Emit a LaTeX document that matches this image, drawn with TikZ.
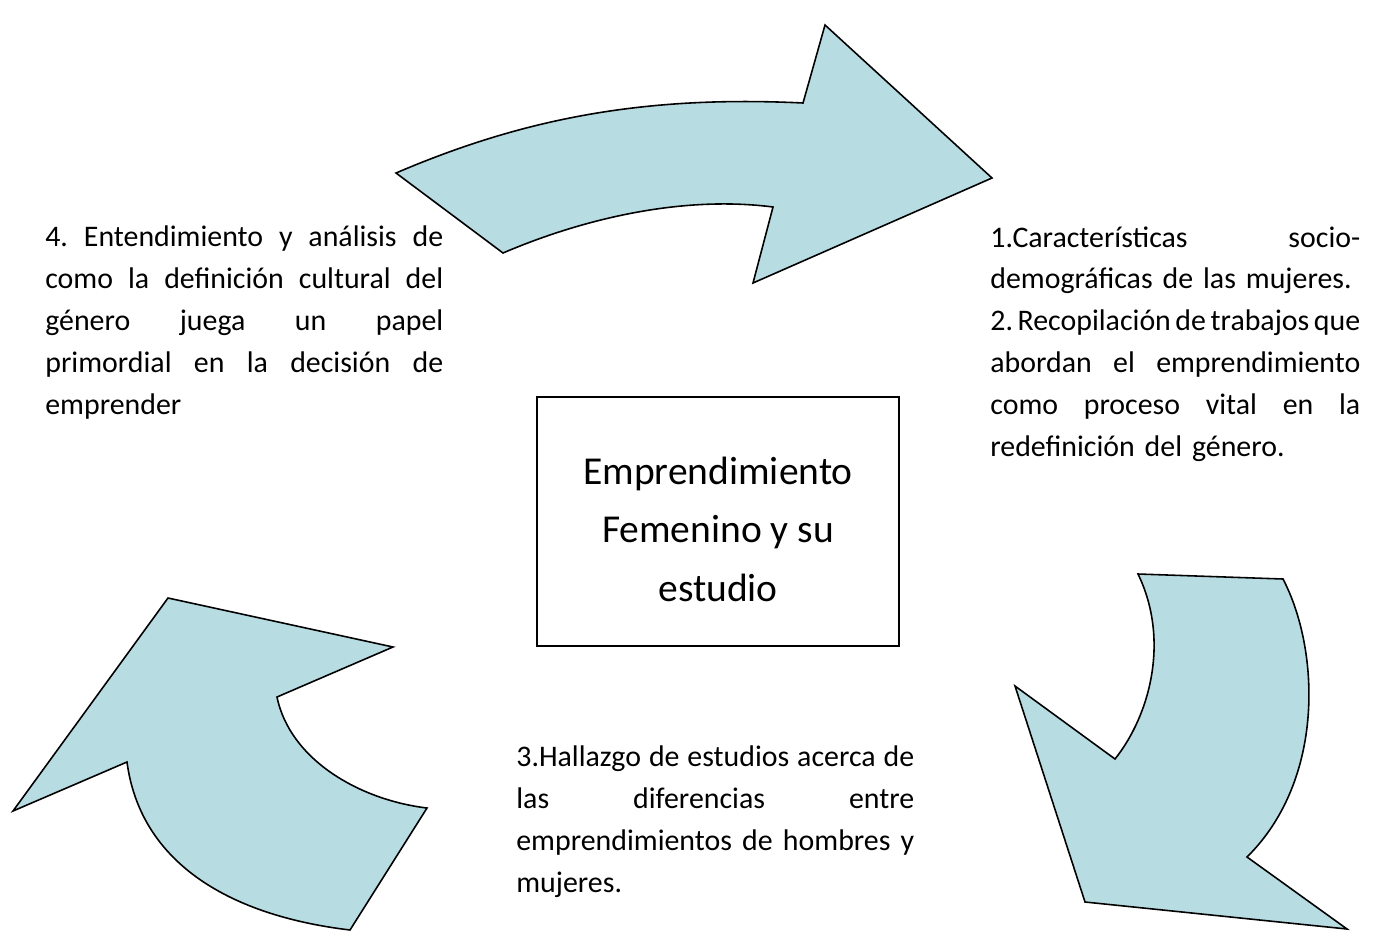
\documentclass[tikz,border=0pt]{standalone}
\usepackage{fontspec}
\setmainfont{Carlito}
\usepackage{xcolor}
\definecolor{flechaazul}{RGB}{183,220,226}
\newcommand{\jl}[1]{\makebox[\hsize][s]{\spaceskip=0pt\xspaceskip=0pt #1}\\}

\tikzset{
    flecha/.style={draw=black, fill=flechaazul, line width=0.9pt, line join=miter},
    texto/.style={anchor=north west, inner sep=0pt, align=left, font=\fontsize{17}{23.9}\selectfont\frenchspacing},
    caja/.style={draw=black, line width=0.9pt, align=center, inner sep=0pt, font=\fontsize{22.5}{33.5}\selectfont}
}

\begin{document}
\begin{tikzpicture}[x=0.02cm, y=-0.02cm]
    \useasboundingbox (0,0) rectangle (1395,933);

    \draw[flecha] (396,173) .. controls (520,120) and (640,95) .. (803,103) -- (825,25) -- (992,178)
        -- (753,283) -- (773,207) .. controls (680,195) and (580,220) .. (503,253) -- cycle;
    \draw[flecha] (1138,574) -- (1283,579) .. controls (1320,650) and (1325,780) .. (1247,857)
        -- (1347,929) -- (1085,902) -- (1015,686) -- (1115,759) .. controls (1150,715) and (1170,640) .. (1138,574) -- cycle;
    \draw[flecha] (168,598) -- (393,647) -- (277,697) .. controls (290,760) and (360,800) .. (427,808)
        -- (350,930) .. controls (225,915) and (140,860) .. (127,762) -- (13,811) -- cycle;

    \node[caja, minimum width=7.24cm, minimum height=4.98cm] (tema) at (718,521.5)
        {\rule{0pt}{0.86cm}Emprendimiento\\Femenino y su\\estudio};

    \node[texto, text width=7.96cm] (paso4) at (45,225)
        {\jl{4. Entendimiento y análisis de}\jl{como la definición cultural del}\jl{género juega un papel}\jl{primordial en la decisión de}emprender};
    \node[texto, text width=7.4cm] (paso12) at (990,226)
        {\jl{1.Características socio-}demográficas de las mujeres.\\\jl{2. Recopilación de trabajos que}\jl{abordan el emprendimiento}\jl{como proceso vital en la}redefinición del género.};
    \node[texto, text width=7.96cm] (paso3) at (516,745)
        {\jl{3.Hallazgo de estudios acerca de}\jl{las diferencias entre}\jl{emprendimientos de hombres y}mujeres.};
\end{tikzpicture}
\end{document}
